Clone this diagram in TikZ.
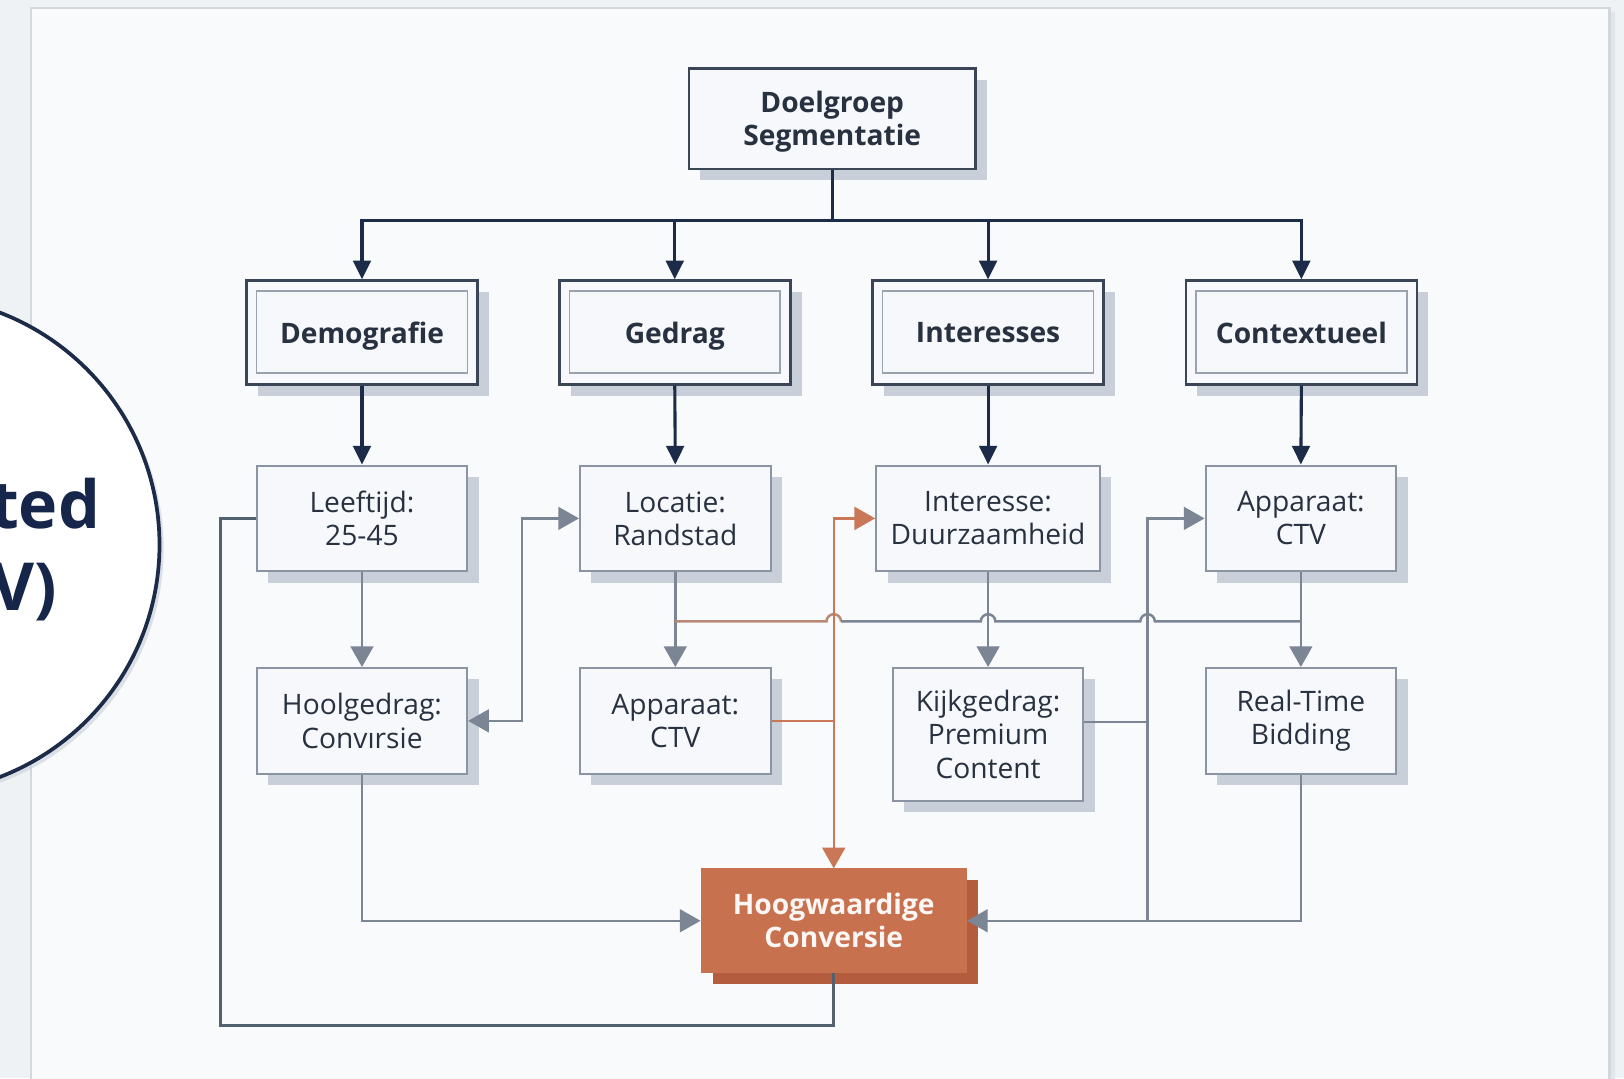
\documentclass[tikz,border=0pt]{standalone}
\usepackage{fontspec}
\setmainfont{Open Sans}
\usetikzlibrary{arrows.meta,shadows,calc}

\definecolor{pagebg}{HTML}{EFF2F5}
\definecolor{panelbg}{HTML}{F8FAFC}
\definecolor{panelline}{HTML}{D3D8DF}
\definecolor{panelshade}{HTML}{E2E6EB}
\definecolor{navy}{HTML}{1C2B48}
\definecolor{headline}{HTML}{3A4557}
\definecolor{boxline}{HTML}{8B94A2}
\definecolor{innerline}{HTML}{9AA2AE}
\definecolor{boxfill}{HTML}{F6F8FB}
\definecolor{boxshadow}{HTML}{C9CFD8}
\definecolor{ink}{HTML}{28313F}
\definecolor{linkgray}{HTML}{7C8594}
\definecolor{loopgray}{HTML}{536070}
\definecolor{rust}{HTML}{C8714F}
\definecolor{rustdark}{HTML}{B45D3E}
\definecolor{rustline}{HTML}{C97757}
\definecolor{rustgray}{HTML}{B98976}
\definecolor{badgeink}{HTML}{15264A}

\tikzset{
  txt/.style={font=\fontsize{13.6}{16}\selectfont, text=ink, align=center, inner sep=0pt},
  boldtxt/.style={txt, font=\fontsize{13.6}{16}\selectfont\bfseries},
  shadowed/.style={drop shadow={shadow xshift=5.5pt, shadow yshift=-5.5pt, fill=#1, opacity=1}},
  rootbox/.style={boldtxt, draw=headline, line width=1.2pt, fill=boxfill, shadowed=boxshadow,
    minimum width=138.5pt, minimum height=48.5pt, text depth=0pt},
  catbox/.style={boldtxt, draw=headline, line width=1.3pt, fill=boxfill, shadowed=boxshadow,
    minimum width=111.5pt, minimum height=50pt, text depth=0pt},
  leafbox/.style={txt, draw=boxline, line width=1pt, fill=boxfill, shadowed=boxshadow,
    minimum height=51pt},
  goalbox/.style={boldtxt, text=white!94!rust, fill=rust, draw=rust, line width=0.6pt,
    shadowed=rustdark, minimum width=128pt, minimum height=50pt},
  navyline/.style={draw=navy, line width=1.5pt},
  navyarrow/.style={navyline, -{Triangle[length=9pt,width=8.5pt]}},
  grayline/.style={draw=linkgray, line width=1.2pt},
  grayarrow/.style={grayline, -{Triangle[length=10pt,width=11pt]}},
  rustwire/.style={draw=rustline, line width=1.2pt},
  rustarrow/.style={rustwire, -{Triangle[length=10pt,width=11pt]}},
  loopline/.style={draw=loopgray, line width=1.3pt},
  badgetxt/.style={anchor=base east, font=\fontsize{32}{40}\selectfont\bfseries, text=badgeink, inner sep=0pt},
}

\begin{document}
\begin{tikzpicture}[x=0.5pt,y=-0.5pt]
\useasboundingbox (0,0) rectangle (1568,1041);
\fill[pagebg] (0,0) rectangle (1568,1041);

% panel
\fill[panelshade] (34,12) rectangle (1559,1050);
\draw[panelline, fill=panelbg, line width=1pt] (30,8) rectangle (1554,1050);

% badge on the left
\node[circle, draw=navy, line width=1.8pt, fill=white, minimum size=240pt,
      drop shadow={shadow xshift=2pt, shadow yshift=-2pt, fill=boxshadow, opacity=0.6}]
      (badge) at (-86,526) {};
\node[badgetxt] (badgeA) at (97,510) {ted};
\node[badgetxt] (badgeB) at (55,589) {V)};

% root
\node[rootbox] (root) at (803.5,114.5) {Doelgroep\\Segmentatie};

% categories
\node[catbox] (demo)    at (349.5,321) {Demografie};
\node[catbox] (gedrag)  at (651.5,321) {Gedrag};
\node[catbox] (inter)   at (954,321)   {Interesses};
\node[catbox] (context) at (1256.5,321) {Contextueel};
\foreach \n in {demo,gedrag,inter,context}
  \draw[innerline, line width=0.8pt] ([shift={(11,11)}]\n.north west) rectangle ([shift={(-11,-12)}]\n.south east);

% second level
\node[leafbox, minimum width=101.5pt] (age)  at (349.5,500.5) {Leeftijd:\\25-45};
\node[leafbox, minimum width=92pt]    (loc)  at (652,500.5)   {Locatie:\\Randstad};
\node[leafbox, minimum width=108pt]   (int)  at (954,500.5)   {Interesse:\\Duurzaamheid};
\node[leafbox, minimum width=92pt]    (devB) at (1256,500.5)  {Apparaat:\\CTV};

% third level
\node[leafbox, minimum width=101.5pt] (hool) at (349.5,696) {Hoolgedrag:\\Convırsie};
\node[leafbox, minimum width=92pt]    (devA) at (652,696)   {Apparaat:\\CTV};
\node[leafbox, minimum width=92pt, minimum height=64pt] (kijk) at (954,709) {Kijkgedrag:\\Premium\\Content};
\node[leafbox, minimum width=92pt]    (rtb)  at (1256,696)  {Real-Time\\Bidding};

% goal
\node[goalbox] (goal) at (805,889) {Hoogwaardige\\Conversie};

% root to categories
\coordinate (bus) at (803.5,213);
\draw[navyline] (root.south) -- (bus);
\foreach \n in {demo,gedrag,inter,context}
  \draw[navyarrow] (bus) -| (\n.north);

% categories to second level
\draw[navyarrow] (demo.south)    -- (age.north);
\draw[navyarrow] (gedrag.south)  -- (loc.north);
\draw[navyarrow] (inter.south)   -- (int.north);
\draw[navyarrow] (context.south) -- (devB.north);

% second to third level
\draw[grayarrow] (age.south)  -- (hool.north);
\draw[grayarrow] (loc.south)  -- (devA.north);
\draw[grayarrow] (int.south)  -- (kijk.north);
\draw[grayarrow] (devB.south) -- (rtb.north);

% cross link with line hops
\coordinate (hopL) at (652,600);
\coordinate (hopR) at (1256,600);
\draw[draw=rustgray, line width=1.2pt] (hopL) -- (798,600) arc[start angle=180,end angle=360,radius=7];
\draw[grayline] (812,600) -- (947,600) arc[start angle=180,end angle=360,radius=7]
  -- (1101,600) arc[start angle=180,end angle=360,radius=7] -- (hopR);

% orange route
\coordinate (oj) at (805,696);
\draw[rustwire] (devA.east) -- (oj);
\draw[rustarrow] (oj) |- (int.west);
\draw[rustarrow] (oj) -- (goal.north);

% two-way link
\draw[grayline, {Triangle[length=10pt,width=11pt]}-{Triangle[length=10pt,width=11pt]}]
  (hool.east) -- ++(52,0) |- (loc.west);

% into the goal
\draw[grayarrow] (hool.south) |- (goal.west);
\coordinate (kj) at (1108,697);
\draw[grayline] (kj -| kijk.east) -- (kj);
\draw[grayarrow] (kj) |- (devB.west);
\draw[grayline] (kj) -- (kj |- goal.east);
\draw[grayarrow] (rtb.south) |- (goal.east);

% feedback loop
\draw[loopline] (goal.south) |- (213,990) |- (age.west);
\end{tikzpicture}
\end{document}
